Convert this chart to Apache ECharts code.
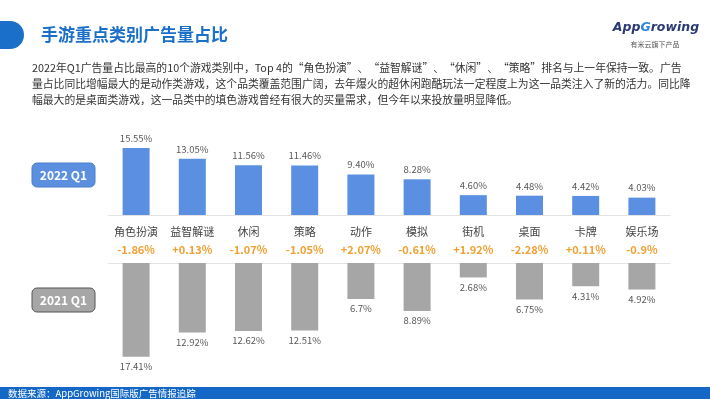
<!DOCTYPE html>
<html>
<head>
<meta charset="utf-8">
<script src="https://cdn.jsdelivr.net/npm/echarts@6/dist/echarts.min.js"></script>
<style>
  html, body { margin: 0; padding: 0; background: #fff; }
  #main { width: 710px; height: 399px; }
</style>
</head>
<body>
<div id="main"></div>
<script>
  // 数据
  var categories = ['角色扮演', '益智解谜', '休闲', '策略', '动作', '模拟', '街机', '桌面', '卡牌', '娱乐场'];
  var share2022 = [15.55, 13.05, 11.56, 11.46, 9.40, 8.28, 4.60, 4.48, 4.42, 4.03];
  var share2021 = [17.41, 12.92, 12.62, 12.51, 6.7, 8.89, 2.68, 6.75, 4.31, 4.92];
  var diffs = [-1.86, 0.13, -1.07, -1.05, 2.07, -0.61, 1.92, -2.28, 0.11, -0.9];

  var paraLines = [
    '2022年Q1广告量占比最高的10个游戏类别中，Top 4的“角色扮演”、“益智解谜”、“休闲”、“策略”排名与上一年保持一致。广告',
    '量占比同比增幅最大的是动作类游戏，这个品类覆盖范围广阔，去年爆火的超休闲跑酷玩法一定程度上为这一品类注入了新的活力。同比降',
    '幅最大的是桌面类游戏，这一品类中的填色游戏曾经有很大的买量需求，但今年以来投放量明显降低。'
  ];

  var font = '"Noto Sans CJK SC", "Noto Sans", sans-serif';
  var myChart = echarts.init(document.getElementById('main'));

  var graphics = [
    // 标题
    { type: 'rect', shape: { x: -20, y: 21, width: 44, height: 28, r: 14 }, style: { fill: '#1a6fc9' } },
    { type: 'text', style: { x: 41, y: 35, text: '手游重点类别广告量占比', font: 'bold 17px ' + font, fill: '#1a6fc9', textVerticalAlign: 'middle' } },
    // logo
    { type: 'text', style: {
        x: 656, y: 28, textAlign: 'center', textVerticalAlign: 'middle',
        text: '{a|App}{g|G}{a|rowing}',
        rich: {
          a: { font: 'bold italic 12.5px "DejaVu Sans", sans-serif', fill: '#2b3a73' },
          g: { font: 'bold italic 12.5px "DejaVu Sans", sans-serif', fill: '#2f86e0' }
        }
    } },
    { type: 'text', style: { x: 655, y: 44, text: '有米云旗下产品', font: '7px ' + font, fill: '#555', textAlign: 'center', textVerticalAlign: 'middle' } },
    // 标签
    { type: 'rect', shape: { x: 32, y: 163, width: 63, height: 24, r: 5 }, style: { fill: '#5b8fe0', stroke: '#4a7dcc', lineWidth: 1 } },
    { type: 'text', style: { x: 63.5, y: 175, text: '2022 Q1', font: 'bold 12px ' + font, fill: '#fff', textAlign: 'center', textVerticalAlign: 'middle' } },
    { type: 'rect', shape: { x: 32, y: 288, width: 63, height: 24, r: 5 }, style: { fill: '#a6a6a6', stroke: '#555', lineWidth: 1 } },
    { type: 'text', style: { x: 63.5, y: 300, text: '2021 Q1', font: 'bold 12px ' + font, fill: '#fff', textAlign: 'center', textVerticalAlign: 'middle' } },
    // 底部
    { type: 'rect', shape: { x: 0, y: 387, width: 710, height: 12 }, style: { fill: '#1467c4' } },
    { type: 'text', style: { x: 8, y: 393, text: '数据来源：AppGrowing国际版广告情报追踪', font: '9.5px ' + font, fill: '#fff', textVerticalAlign: 'middle' } }
  ];
  paraLines.forEach(function (line, i) {
    graphics.push({ type: 'text', style: { x: 32, y: 68 + i * 16, text: line, font: '10.8px ' + font, fill: '#333', textVerticalAlign: 'middle' } });
  });

  myChart.setOption({
    animation: false,
    graphic: graphics,
    grid: [
      { left: 108, right: 40, top: 146, height: 69 },
      { left: 108, right: 40, top: 263, height: 97 }
    ],
    xAxis: [
      {
        type: 'category', gridIndex: 0, data: categories,
        axisLine: { lineStyle: { color: '#e3e3e3' } },
        axisTick: { show: false },
        axisLabel: {
          interval: 0, margin: 8,
          formatter: function (v, i) {
            var d = diffs[i];
            return '{c|' + v + '}\n{d|' + (d > 0 ? '+' : '') + d + '%}';
          },
          rich: {
            c: { fontFamily: font, fontSize: 11, color: '#444', lineHeight: 18 },
            d: { fontFamily: font, fontSize: 11, fontWeight: 'bold', color: '#f0a032', lineHeight: 18 }
          }
        }
      },
      {
        type: 'category', gridIndex: 1, data: categories, position: 'top',
        axisLine: { lineStyle: { color: '#e3e3e3' } },
        axisTick: { show: false },
        axisLabel: { show: false }
      }
    ],
    yAxis: [
      { type: 'value', gridIndex: 0, min: 0, max: 16, show: false },
      { type: 'value', gridIndex: 1, min: 0, max: 18, inverse: true, show: false }
    ],
    series: [
      {
        name: '2022 Q1', type: 'bar', xAxisIndex: 0, yAxisIndex: 0,
        data: share2022, barWidth: 27,
        itemStyle: { color: '#5b8fe2' },
        label: {
          show: true, position: 'top', distance: 5,
          fontFamily: font, fontSize: 9.5, color: '#595959',
          formatter: function (p) { return p.value.toFixed(2) + '%'; }
        }
      },
      {
        name: '2021 Q1', type: 'bar', xAxisIndex: 1, yAxisIndex: 1,
        data: share2021, barWidth: 27,
        itemStyle: { color: '#a6a6a6' },
        label: {
          show: true, position: 'bottom', distance: 5,
          fontFamily: font, fontSize: 9.5, color: '#595959',
          formatter: function (p) { return p.value + '%'; }
        }
      }
    ]
  });
</script>
</body>
</html>
